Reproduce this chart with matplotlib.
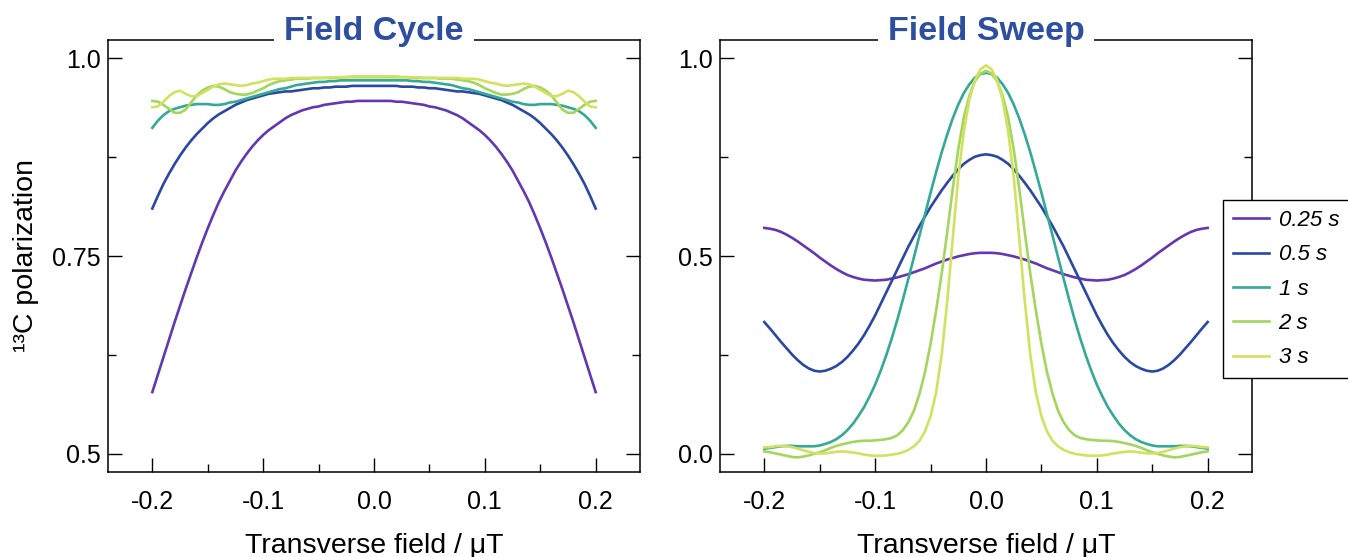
import numpy as np
import matplotlib
matplotlib.use("Agg")
import matplotlib.pyplot as plt
from matplotlib.ticker import FixedLocator

plt.rcParams['font.family'] = ['Liberation Sans', 'DejaVu Sans']
plt.rcParams['axes.unicode_minus'] = False

# the curves are symmetric: values for x = 0 ... 0.2, step 0.005
x_half = np.linspace(0, 0.2, 41)

labels = ["0.25 s", "0.5 s", "1 s", "2 s", "3 s"]
colors = ["#6337b3", "#2a47a3", "#33a996", "#a3d65c", "#d2e160"]

# Field Cycle
cyc_025 = [0.946, 0.946, 0.946, 0.946, 0.945, 0.945, 0.944, 0.943, 0.942, 0.941, 0.939,
           0.938, 0.936, 0.934, 0.931, 0.928, 0.924, 0.919, 0.914, 0.909, 0.903,
           0.896, 0.888, 0.879, 0.869, 0.858, 0.845, 0.832, 0.818, 0.802, 0.785,
           0.767, 0.748, 0.728, 0.708, 0.687, 0.666, 0.644, 0.622, 0.600, 0.578]
cyc_05 = [0.965, 0.965, 0.965, 0.965, 0.965, 0.964, 0.964, 0.964, 0.963, 0.963, 0.962,
          0.962, 0.961, 0.960, 0.959, 0.958, 0.958, 0.957, 0.956, 0.955, 0.953,
          0.951, 0.949, 0.947, 0.944, 0.941, 0.937, 0.933, 0.929, 0.924, 0.918,
          0.911, 0.904, 0.896, 0.887, 0.877, 0.866, 0.854, 0.841, 0.826, 0.810]
cyc_1 = [0.972, 0.972, 0.972, 0.972, 0.972, 0.972, 0.972, 0.971, 0.971, 0.970, 0.970,
         0.969, 0.968, 0.967, 0.966, 0.964, 0.962, 0.961, 0.959, 0.957, 0.955,
         0.953, 0.951, 0.949, 0.947, 0.945, 0.944, 0.942, 0.941, 0.941, 0.942,
         0.942, 0.942, 0.941, 0.940, 0.938, 0.936, 0.933, 0.928, 0.921, 0.912]
cyc_2 = [0.976, 0.976, 0.976, 0.976, 0.976, 0.976, 0.976, 0.975, 0.975, 0.975, 0.975,
         0.975, 0.974, 0.974, 0.974, 0.973, 0.972, 0.971, 0.969, 0.966, 0.962,
         0.959, 0.956, 0.954, 0.954, 0.955, 0.957, 0.961, 0.964, 0.965, 0.963,
         0.959, 0.953, 0.944, 0.935, 0.931, 0.931, 0.936, 0.941, 0.945, 0.946]
cyc_3 = [0.977, 0.977, 0.977, 0.977, 0.977, 0.976, 0.976, 0.976, 0.976, 0.975, 0.975,
         0.975, 0.975, 0.975, 0.975, 0.975, 0.974, 0.974, 0.974, 0.973, 0.971,
         0.969, 0.968, 0.966, 0.965, 0.966, 0.967, 0.968, 0.967, 0.964, 0.960,
         0.956, 0.952, 0.952, 0.955, 0.959, 0.957, 0.952, 0.945, 0.939, 0.938]

# Field Sweep
swp_025 = [0.508, 0.508, 0.507, 0.505, 0.502, 0.499, 0.495, 0.491, 0.486, 0.481, 0.475,
           0.469, 0.464, 0.459, 0.454, 0.450, 0.446, 0.443, 0.440, 0.439, 0.438,
           0.439, 0.440, 0.443, 0.447, 0.452, 0.459, 0.467, 0.476, 0.486, 0.496,
           0.507, 0.517, 0.527, 0.537, 0.546, 0.554, 0.561, 0.566, 0.569, 0.571]
swp_05 = [0.757, 0.755, 0.751, 0.743, 0.733, 0.719, 0.703, 0.685, 0.666, 0.645, 0.624,
          0.600, 0.576, 0.550, 0.524, 0.495, 0.466, 0.437, 0.408, 0.379, 0.350,
          0.324, 0.300, 0.279, 0.261, 0.245, 0.232, 0.222, 0.215, 0.210, 0.208,
          0.210, 0.216, 0.225, 0.237, 0.251, 0.267, 0.283, 0.300, 0.317, 0.333]
swp_1 = [0.963, 0.960, 0.951, 0.934, 0.912, 0.883, 0.848, 0.807, 0.762, 0.712, 0.660,
         0.606, 0.552, 0.497, 0.443, 0.390, 0.339, 0.292, 0.249, 0.210, 0.175,
         0.145, 0.118, 0.096, 0.076, 0.060, 0.047, 0.037, 0.030, 0.025, 0.021,
         0.019, 0.019, 0.019, 0.019, 0.020, 0.020, 0.019, 0.017, 0.015, 0.013]
swp_2 = [0.968, 0.961, 0.942, 0.905, 0.851, 0.770, 0.670, 0.560, 0.455, 0.362, 0.278,
         0.207, 0.152, 0.109, 0.080, 0.060, 0.047, 0.040, 0.037, 0.035, 0.034,
         0.033, 0.033, 0.032, 0.030, 0.027, 0.024, 0.020, 0.015, 0.009, 0.004,
         0.000, -0.004, -0.007, -0.009, -0.008, -0.005, -0.002, 0.001, 0.004, 0.006]
swp_3 = [0.982, 0.972, 0.945, 0.895, 0.815, 0.700, 0.545, 0.385, 0.250, 0.155, 0.095,
         0.057, 0.033, 0.019, 0.010, 0.004, 0.000, -0.002, -0.004, -0.005, -0.005,
         -0.004, -0.002, 0.001, 0.003, 0.005, 0.006, 0.005, 0.003, 0.001, 0.001,
         0.002, 0.005, 0.009, 0.013, 0.017, 0.019, 0.020, 0.019, 0.017, 0.016]

cycle_series = [cyc_025, cyc_05, cyc_1, cyc_2, cyc_3]
sweep_series = [swp_025, swp_05, swp_1, swp_2, swp_3]


def mirror(yh):
    yh = np.asarray(yh)
    return (np.concatenate([-x_half[::-1], x_half[1:]]),
            np.concatenate([yh[::-1], yh[1:]]))


title_color = "#2e4f9f"

fig = plt.figure(figsize=(13.48, 5.57), dpi=100)
W, H = 1348, 557
ax1 = fig.add_axes([108 / W, 1 - 472 / H, 532 / W, 432 / H])
ax2 = fig.add_axes([720 / W, 1 - 472 / H, 532 / W, 432 / H])


def style(ax, title, yticks, ylabels, yminor, ylim):
    ax.set_xlim(-0.24, 0.24)
    ax.set_ylim(*ylim)
    for s in ax.spines.values():
        s.set_linewidth(1.1)
    ax.set_xticks([-0.2, -0.1, 0.0, 0.1, 0.2])
    ax.set_xticklabels(["-0.2", "-0.1", "0.0", "0.1", "0.2"])
    ax.xaxis.set_minor_locator(FixedLocator([-0.15, -0.05, 0.05, 0.15]))
    ax.set_yticks(yticks)
    ax.set_yticklabels(ylabels)
    ax.yaxis.set_minor_locator(FixedLocator(yminor))
    ax.tick_params(which='both', direction='in', top=False, right=True,
                   width=1.0, labelsize=18)
    ax.tick_params(which='major', length=10)
    ax.tick_params(which='minor', length=5.5)
    ax.tick_params(axis='x', pad=13)
    ax.tick_params(axis='y', pad=5)
    ax.set_xlabel("Transverse field / μT", fontsize=20.5)
    ax.xaxis.set_label_coords(0.5, -0.172)
    ax.xaxis.label.set_verticalalignment('center')
    ax.text(0.5, 1.019, title, transform=ax.transAxes, ha='center', va='center',
            fontsize=24.5, fontweight='bold', color=title_color, zorder=5,
            bbox=dict(facecolor='white', edgecolor='none', pad=7))


style(ax1, "Field Cycle", [0.5, 0.75, 1.0], ["0.5", "0.75", "1.0"],
      [0.625, 0.875], (0.477, 1.023))
style(ax2, "Field Sweep", [0.0, 0.5, 1.0], ["0.0", "0.5", "1.0"],
      [0.25, 0.75], (-0.046, 1.046))

ax1.set_ylabel("¹³C polarization", fontsize=20.5)
ax1.yaxis.set_label_coords(-0.155, 0.5)
ax1.yaxis.label.set_verticalalignment('center')

for yh, c in zip(cycle_series, colors):
    xf, yf = mirror(yh)
    ax1.plot(xf, yf, color=c, lw=1.9)

handles = []
for yh, c, lab in zip(sweep_series, colors, labels):
    xf, yf = mirror(yh)
    h, = ax2.plot(xf, yf, color=c, lw=1.9, label=lab)
    handles.append(h)

leg = fig.legend(handles=handles, loc='upper left',
                 bbox_to_anchor=(1223 / W, 1 - 200 / H), borderaxespad=0,
                 fancybox=False, framealpha=1, edgecolor='black',
                 prop={'size': 16, 'style': 'italic'},
                 handlelength=1.6, handletextpad=0.45, labelspacing=0.6,
                 borderpad=0.45)
leg.get_frame().set_linewidth(1.0)

fig.savefig("out.png", dpi=100)
